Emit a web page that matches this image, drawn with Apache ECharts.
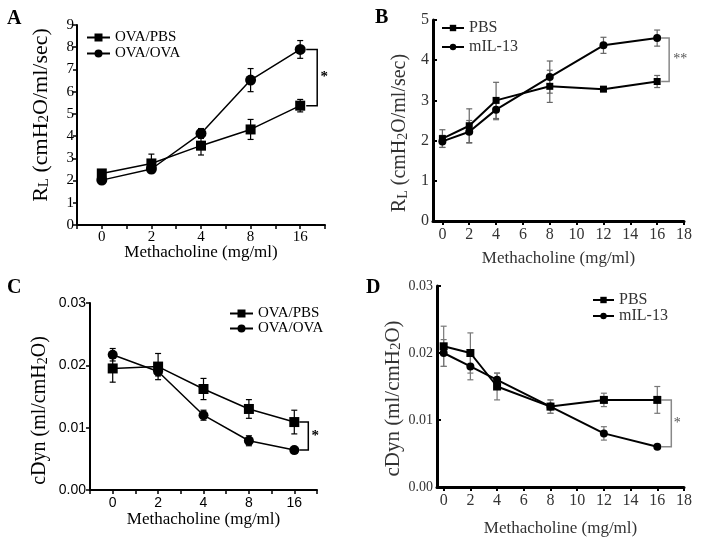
<!DOCTYPE html>
<html><head><meta charset="utf-8">
<script src="https://cdn.jsdelivr.net/npm/echarts@6/dist/echarts.min.js"></script>
<style>html,body{margin:0;padding:0;background:#fff}#c{width:701px;height:540px}</style>
</head><body><div id="c"></div>
<script>
// ---- data ----
const catsAC = ['0','2','4','8','16'];
const idxAC = [0,1,2,3,4];
const xBD = [0,2,4,8,12,16];
const ticksBD = [0,2,4,6,8,10,12,14,16,18];

const aPBS = [2.32,2.77,3.57,4.30,5.37];
const aPBSerr = [0.10,0.42,0.42,0.45,0.28];
const aOVA = [2.02,2.52,4.12,6.52,7.90];
const aOVAerr = [0.08,0.08,0.22,0.52,0.40];

const bPBS = [2.05,2.37,3.00,3.35,3.28,3.47];
const bPBSerr = [0.22,0.42,0.45,0.40,0.05,0.15];
const bIL = [1.98,2.22,2.77,3.58,4.37,4.55];
const bILerr = [0.15,0.28,0.25,0.40,0.20,0.20];

const cPBS = [0.0195,0.0198,0.0162,0.0130,0.0109];
const cPBSerr = [0.0022,0.0021,0.0017,0.0015,0.0019];
const cOVA = [0.0217,0.0190,0.0120,0.0079,0.0064];
const cOVAerr = [0.0010,0.0007,0.0008,0.0008,0.0004];

const dPBS = [0.0210,0.0200,0.0150,0.0120,0.0130,0.0130];
const dPBSerr = [0.0030,0.0030,0.0020,0.0010,0.0010,0.0020];
const dIL = [0.0200,0.0180,0.0160,0.0120,0.0080,0.0060];
const dILerr = [0.0020,0.0020,0.0010,0.0010,0.0010,0.0002];

// ---- helpers ----
const SERIF = '"Liberation Serif","Times New Roman",serif';
const SANS = '"Liberation Sans",Arial,sans-serif';

function lineS(name, gi, xs, ys, sym, size, lw){
  return {type:'line', name, xAxisIndex:gi, yAxisIndex:gi, z:3,
    data: xs.map((x,i)=>[x, ys[i]]), symbol:sym, symbolSize:size, showSymbol:true,
    lineStyle:{color:'#000', width:lw}, itemStyle:{color:'#000'}, animation:false};
}
function errS(gi, xs, ys, es, color, cap){
  return {type:'custom', xAxisIndex:gi, yAxisIndex:gi, z:2, silent:true, animation:false,
    encode:{x:0, y:[1,2]},
    data: xs.map((x,i)=>[x, ys[i]-es[i], ys[i]+es[i]]),
    renderItem:(p,api)=>{
      const lo = api.coord([api.value(0), api.value(1)]);
      const hi = api.coord([api.value(0), api.value(2)]);
      const st = {stroke:color, lineWidth:1.2};
      return {type:'group', children:[
        {type:'line', shape:{x1:lo[0],y1:lo[1],x2:hi[0],y2:hi[1]}, style:st},
        {type:'line', shape:{x1:lo[0]-cap,y1:lo[1],x2:lo[0]+cap,y2:lo[1]}, style:st},
        {type:'line', shape:{x1:hi[0]-cap,y1:hi[1],x2:hi[0]+cap,y2:hi[1]}, style:st}
      ]};
    }};
}
function bracketS(gi, x, yTop, yBot, label, color, a1, a2, tdx, font){
  return {type:'custom', xAxisIndex:gi, yAxisIndex:gi, z:2, silent:true, animation:false,
    encode:{x:0, y:[1,2]},
    data:[[x, yTop, yBot]],
    renderItem:(p,api)=>{
      const t = api.coord([api.value(0), api.value(1)]);
      const b = api.coord([api.value(0), api.value(2)]);
      const st = {stroke:color, lineWidth:1.5, fill:null};
      return {type:'group', children:[
        {type:'polyline', shape:{points:[[t[0]+a1,t[1]],[t[0]+a2,t[1]],[t[0]+a2,b[1]],[t[0]+a1,b[1]]]}, style:st},
        {type:'text', style:{text:label, x:t[0]+a2+tdx, y:(t[1]+b[1])/2, align:'center', verticalAlign:'middle',
          font:font, fill:color==='#000'?'#000':'#555'}}
      ]};
    }};
}
function catFmt(v){ return (Number.isInteger(v) && v>=0 && v<catsAC.length) ? catsAC[v] : ''; }

const rl = (fs, col) => ({
  n:{fontFamily:SERIF, fontSize:fs, color:col, lineHeight:fs+4, verticalAlign:'bottom'},
  s:{fontFamily:SERIF, fontSize:Math.round(fs*0.7), color:col, lineHeight:Math.round(fs*0.7), verticalAlign:'bottom'}
});

const option = {
  backgroundColor:'#fff',
  animation:false,
  grid:[
    {left:77, top:25, width:248, height:200},
    {left:433, top:20, width:251, height:201},
    {left:90, top:303, width:227, height:187},
    {left:437, top:286, width:247, height:201}
  ],
  xAxis:[
    {gridIndex:0, type:'value', min:-0.5, max:4.5, interval:0.5,
      name:'Methacholine (mg/ml)', nameLocation:'middle', nameGap:19, nameMoveOverlap:false,
      nameTextStyle:{fontFamily:SERIF, fontSize:17, color:'#000'},
      axisLine:{onZero:false, lineStyle:{color:'#000', width:2}},
      axisTick:{lineStyle:{color:'#000', width:1.5}, length:4},
      axisLabel:{formatter:catFmt, fontFamily:SERIF, fontSize:15, color:'#000', margin:5},
      splitLine:{show:false}},
    {gridIndex:1, type:'value', min:-0.7, max:18,
      name:'Methacholine (mg/ml)', nameLocation:'middle', nameGap:29,
      nameTextStyle:{fontFamily:SERIF, fontSize:17, color:'#333'},
      axisLine:{onZero:false, lineStyle:{color:'#000', width:3}},
      axisTick:{customValues:ticksBD, lineStyle:{color:'#000', width:2}, length:4},
      axisLabel:{customValues:ticksBD, fontFamily:SERIF, fontSize:16, color:'#333', margin:6},
      splitLine:{show:false}},
    {gridIndex:2, type:'value', min:-0.5, max:4.5, interval:0.5,
      name:'Methacholine (mg/ml)', nameLocation:'middle', nameGap:20,
      nameTextStyle:{fontFamily:SERIF, fontSize:17, color:'#000'},
      axisLine:{onZero:false, lineStyle:{color:'#000', width:2}},
      axisTick:{lineStyle:{color:'#000', width:1.5}, length:4},
      axisLabel:{formatter:catFmt, fontFamily:SANS, fontSize:14, color:'#000', margin:6},
      splitLine:{show:false}},
    {gridIndex:3, type:'value', min:-0.5, max:18,
      name:'Methacholine (mg/ml)', nameLocation:'middle', nameGap:33,
      nameTextStyle:{fontFamily:SERIF, fontSize:17, color:'#333'},
      axisLine:{onZero:false, lineStyle:{color:'#000', width:3}},
      axisTick:{customValues:ticksBD, lineStyle:{color:'#000', width:2}, length:4},
      axisLabel:{customValues:ticksBD, fontFamily:SERIF, fontSize:16, color:'#333', margin:6},
      splitLine:{show:false}}
  ],
  yAxis:[
    {gridIndex:0, type:'value', min:0, max:9, interval:1,
      name:'{n|R}{s|L}{n| (cmH}{s|2}{n|O/ml/sec)}', nameLocation:'middle', nameGap:25, nameRotate:90,
      nameTextStyle:{rich:rl(22,'#000'), padding:[0,0,0,20]},
      axisLine:{onZero:false, lineStyle:{color:'#000', width:2}},
      axisTick:{lineStyle:{color:'#000', width:1.5}, length:4},
      axisLabel:{fontFamily:SERIF, fontSize:15, color:'#000', margin:3},
      splitLine:{show:false}},
    {gridIndex:1, type:'value', min:0, max:5, interval:1,
      name:'{n|R}{s|L}{n| (cmH}{s|2}{n|O/ml/sec)}', nameLocation:'middle', nameGap:23, nameRotate:90,
      nameTextStyle:{rich:rl(20,'#333'), padding:[0,25,0,0]},
      axisLine:{onZero:false, lineStyle:{color:'#000', width:3}},
      axisTick:{inside:true, lineStyle:{color:'#000', width:2}, length:4},
      axisLabel:{fontFamily:SERIF, fontSize:16, color:'#333', margin:4},
      splitLine:{show:false}},
    {gridIndex:2, type:'value', min:0, max:0.03, interval:0.01,
      name:'{n|cDyn (ml/cmH}{s|2}{n|O)}', nameLocation:'middle', nameGap:40, nameRotate:90,
      nameTextStyle:{rich:rl(20,'#000'), padding:[0,28,0,0]},
      axisLine:{onZero:false, lineStyle:{color:'#000', width:2}},
      axisTick:{lineStyle:{color:'#000', width:1.5}, length:4},
      axisLabel:{formatter:v=>v.toFixed(2), fontFamily:SANS, fontSize:14, color:'#000', margin:4},
      splitLine:{show:false}},
    {gridIndex:3, type:'value', min:0, max:0.03, interval:0.01,
      name:'{n|cDyn (ml/cmH}{s|2}{n|O)}', nameLocation:'middle', nameGap:33, nameRotate:90,
      nameTextStyle:{rich:rl(21,'#333'), padding:[0,24,0,0]},
      axisLine:{onZero:false, lineStyle:{color:'#000', width:3}},
      axisTick:{inside:true, lineStyle:{color:'#000', width:2}, length:4},
      axisLabel:{formatter:v=>v.toFixed(2), fontFamily:SERIF, fontSize:14, color:'#333', margin:4},
      splitLine:{show:false}}
  ],
  legend:[
    {left:86, top:30, orient:'vertical', padding:0, itemGap:1, itemWidth:23, itemHeight:10,
      textStyle:{fontFamily:SERIF, fontSize:15, color:'#000'}, data:['OVA/PBS','OVA/OVA']},
    {left:441, top:20, orient:'vertical', padding:0, itemGap:3, itemWidth:22, itemHeight:8,
      textStyle:{fontFamily:SERIF, fontSize:16, color:'#333'}, data:['PBS','mIL-13']},
    {left:229, top:306, orient:'vertical', padding:0, itemGap:0, itemWidth:23, itemHeight:10,
      textStyle:{fontFamily:SERIF, fontSize:15, color:'#000'}, data:['OVA/PBS','OVA/OVA']},
    {left:592, top:292, orient:'vertical', padding:0, itemGap:0, itemWidth:21, itemHeight:8,
      textStyle:{fontFamily:SERIF, fontSize:16, color:'#333'}, data:['PBS','mIL-13']}
  ],
  graphic:[
    {type:'text', left:7, top:9, style:{text:'A', font:'bold 20px '+SERIF, fill:'#000'}},
    {type:'text', left:375, top:8, style:{text:'B', font:'bold 20px '+SERIF, fill:'#000'}},
    {type:'text', left:7, top:278, style:{text:'C', font:'bold 20px '+SERIF, fill:'#000'}},
    {type:'text', left:366, top:278, style:{text:'D', font:'bold 20px '+SERIF, fill:'#000'}}
  ],
  series:[
    errS(0, idxAC, aPBS, aPBSerr, '#000', 3),
    errS(0, idxAC, aOVA, aOVAerr, '#000', 3),
    lineS('OVA/PBS', 0, idxAC, aPBS, 'rect', 10, 1.5),
    lineS('OVA/OVA', 0, idxAC, aOVA, 'circle', 11, 1.5),
    bracketS(0, 4, aOVA[4], aPBS[4], '*', '#000', 6, 17, 7, 'bold 15px '+SERIF),

    errS(1, xBD, bPBS, bPBSerr, '#666', 3),
    errS(1, xBD, bIL, bILerr, '#666', 3),
    lineS('PBS', 1, xBD, bPBS, 'rect', 7, 2),
    lineS('mIL-13', 1, xBD, bIL, 'circle', 8, 2),
    bracketS(1, 16, bIL[5], bPBS[5], '**', '#888', 4, 12, 11, '14px '+SERIF),

    errS(2, idxAC, cPBS, cPBSerr, '#000', 3),
    errS(2, idxAC, cOVA, cOVAerr, '#000', 3),
    lineS('OVA/PBS', 2, idxAC, cPBS, 'rect', 10, 1.5),
    lineS('OVA/OVA', 2, idxAC, cOVA, 'circle', 10, 1.5),
    bracketS(2, 4, cPBS[4], cOVA[4], '*', '#000', 5, 14, 7, 'bold 15px '+SERIF),

    errS(3, xBD, dPBS, dPBSerr, '#777', 3),
    errS(3, xBD, dIL, dILerr, '#777', 3),
    lineS('PBS', 3, xBD, dPBS, 'rect', 8, 2),
    lineS('mIL-13', 3, xBD, dIL, 'circle', 8, 2),
    bracketS(3, 16, dPBS[5], dIL[5], '*', '#888', 4, 14, 6, '14px '+SERIF)
  ]
};
const chart = echarts.init(document.getElementById('c'), null, {renderer:'canvas'});
chart.setOption(option);
</script>
</body></html>
